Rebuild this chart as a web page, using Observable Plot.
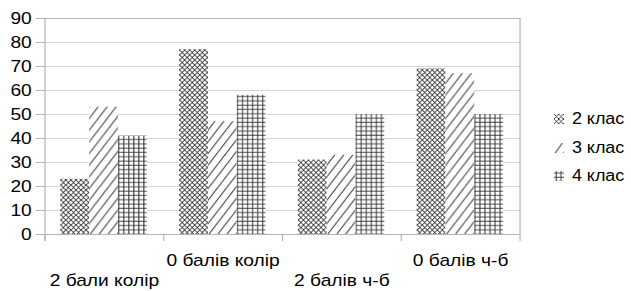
<!DOCTYPE html>
<html><head><meta charset="utf-8">
<script src="https://cdn.jsdelivr.net/npm/d3@7"></script>
<script src="https://cdn.jsdelivr.net/npm/@observablehq/plot@0.6"></script>
<style>
body{margin:0;background:#fff;font-family:"Liberation Sans",Arial,sans-serif;}
#wrap{position:relative;width:631px;height:291px;overflow:hidden;background:#fff;}
#legend{position:absolute;left:554px;top:105px;transform:scaleX(1.12);transform-origin:0 0;}
.li{display:flex;align-items:center;height:28.5px;font-size:16px;color:#000;white-space:nowrap;}
.li svg{margin-right:7px;}
</style></head><body><div id="wrap"><div id="legend"></div></div>
<script>
const categories = ["2 бали колір", "0 балів колір", "2 балів ч-б", "0 балів ч-б"];
const seriesNames = ["2 клас", "3 клас", "4 клас"];
const values2 = [23, 77, 31, 69];
const values3 = [53, 47, 33, 67];
const values4 = [41, 58, 50, 50];
const yTicks = [0, 10, 20, 30, 40, 50, 60, 70, 80, 90];
const upperLabels = [categories[1], categories[3]];
const lowerLabels = [categories[0], categories[2]];

const seriesValues = [values2, values3, values4];
const data = categories.flatMap((c, i) => seriesNames.map((s, j) => ({cat: c, series: s, value: seriesValues[j][i]})));

const W = 526;
const S = 631 / W;
const H = 291, MT = 18, MB = 57;

const plot = Plot.plot({
  width: W, height: H,
  marginLeft: 44 / S, marginRight: 110 / S, marginTop: MT, marginBottom: MB,
  style: {fontFamily: "Liberation Sans, Arial, sans-serif", fontSize: "15px", background: "#fff", color: "#000", overflow: "visible"},
  fx: {domain: categories, padding: 0, label: null, axis: null},
  x: {domain: seriesNames, paddingInner: 0, paddingOuter: 0.5, axis: null},
  y: {domain: [0, 90], label: null},
  marks: [
    Plot.gridY(yTicks, {stroke: "#d4d4d4", strokeOpacity: 1}),
    ...seriesNames.map((s, j) => Plot.barY(data, {filter: d => d.series === s, fx: "cat", x: "series", y: "value", fill: `url(#pat${j})`})),
    Plot.frame({anchor: "top", stroke: "#b3b3b3", strokeOpacity: 1}),
    Plot.frame({anchor: "left", facetAnchor: "left", insetBottom: -6, stroke: "#b3b3b3", strokeOpacity: 1}),
    Plot.frame({anchor: "right", facetAnchor: "right", insetBottom: -6, stroke: "#b3b3b3", strokeOpacity: 1}),
    Plot.frame({anchor: "left", insetTop: H - MT - MB, insetBottom: -6, stroke: "#b3b3b3", strokeOpacity: 1}),
    Plot.ruleY([0], {stroke: "#b3b3b3"}),
    Plot.axisY(yTicks, {text: null, tickSize: 7, stroke: "#b3b3b3", strokeOpacity: 1}),
    Plot.axisY(yTicks, {tickSize: 0, tickPadding: 11, fill: "#000", fontSize: 16}),
    Plot.text(upperLabels, {fx: d => d, text: d => d, frameAnchor: "bottom", dy: 31, fill: "#000", fontSize: 16}),
    Plot.text(lowerLabels, {fx: d => d, text: d => d, frameAnchor: "bottom", dy: 51, fill: "#000", fontSize: 16})
  ]
});

const defs = `
<pattern id="pat0" patternUnits="userSpaceOnUse" width="4.2" height="5">
  <rect width="4.2" height="5" fill="#fff"/>
  <path d="M0,0L4.2,5M4.2,0L0,5" stroke="#2a2a2a" stroke-width="0.8"/>
</pattern>
<pattern id="pat1" patternUnits="userSpaceOnUse" width="7.5" height="11.7">
  <rect width="7.5" height="11.7" fill="#fff"/>
  <path d="M0,11.7L7.5,0M-7.5,11.7L0,0M7.5,11.7L15,0" stroke="#222" stroke-width="0.85"/>
</pattern>
<pattern id="pat2" patternUnits="userSpaceOnUse" width="4.2" height="4.3">
  <rect width="4.2" height="4.3" fill="#fff"/>
  <path d="M2,0V4.3M0,2H4.2" stroke="#333" stroke-width="0.85"/>
</pattern>`;
d3.select(plot).insert("defs", ":first-child").html(defs);
plot.setAttribute("width", 631);
plot.setAttribute("preserveAspectRatio", "none");
plot.style.width = "631px";
plot.style.height = "291px";
plot.style.maxWidth = "none";
document.getElementById("wrap").prepend(plot);

const legend = d3.select("#legend");
seriesNames.forEach((s, j) => {
  const row = legend.append("div").attr("class", "li");
  row.append("svg").attr("width", 9).attr("height", 10)
    .append("rect").attr("width", 9).attr("height", 10).attr("fill", `url(#pat${j})`);
  row.append("span").text(s);
});
</script>
</body></html>
